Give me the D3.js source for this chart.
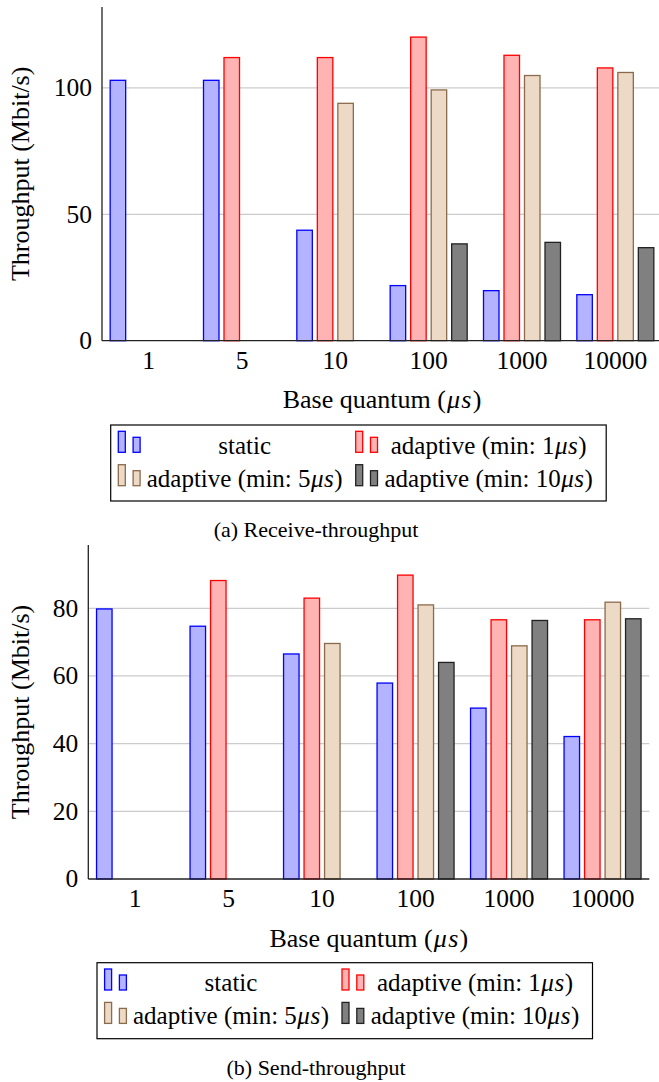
<!DOCTYPE html>
<html>
<head>
<meta charset="utf-8">
<script src="https://cdn.jsdelivr.net/npm/d3@7"></script>
<style>
  body { margin: 0; background: #fff; }
  svg, svg text, svg tspan { font-family: "Liberation Serif", "Times New Roman", Times, serif; }
</style>
</head>
<body>
<div id="chart"></div>
<script>
// categories (base quantum in microseconds)
var categories = ["1", "5", "10", "100", "1000", "10000"];
var seriesNames = ["static", "adaptive (min: 1", "adaptive (min: 5", "adaptive (min: 10"];

// receive throughput (Mbit/s), null = no bar
var recvStatic = [103, 103, 43.7, 21.8, 19.8, 18.2];
var recvAdapt1 = [null, 112, 112, 120.1, 112.9, 107.9];
var recvAdapt5 = [null, null, 93.9, 99.2, 104.9, 106.1];
var recvAdapt10 = [null, null, null, 38.3, 38.9, 36.8];

// send throughput (Mbit/s)
var sendStatic = [79.8, 74.7, 66.5, 57.9, 50.5, 42.1];
var sendAdapt1 = [null, 88.2, 83.0, 89.8, 76.6, 76.6];
var sendAdapt5 = [null, null, 69.6, 81.0, 68.9, 81.8];
var sendAdapt10 = [null, null, null, 64.0, 76.4, 76.9];

var recvTicks = [0, 50, 100];
var sendTicks = [0, 20, 40, 60, 80];

const width = 659;
const height = 1082;
const FONT = "'Liberation Serif', 'Times New Roman', serif";

var fills = ["#b3b3ff", "#ffb3b3", "#ecd9c6", "#808080"];
var strokes = ["#0000ff", "#ff0000", "#8b6b4b", "#222222"];

var svg = d3.select("#chart")
	.append("svg")
	.attr("width", width)
	.attr("height", height)
	.attr("font-family", FONT);

drawPanel({
	left: 102, right: 662, top: 7, base: 340.7, yMax: 132,
	ticks: recvTicks,
	series: [recvStatic, recvAdapt1, recvAdapt5, recvAdapt10],
	tickBase: 369, titleBase: 408, legendTop: 425,
	caption: "(a) Receive-throughput", captionBase: 537
});

drawPanel({
	left: 88.3, right: 649.3, top: 545, base: 879, yMax: 98.7,
	ticks: sendTicks,
	series: [sendStatic, sendAdapt1, sendAdapt5, sendAdapt10],
	tickBase: 906.7, titleBase: 947, legendTop: 962.7,
	caption: "(b) Send-throughput", captionBase: 1075
});

function label(sel, size) {
	return sel.append("text")
		.attr("font-family", FONT)
		.style("font-family", FONT)
		.style("font-size", size + "px")
		.attr("fill", "#000");
}

// math-style "μs" (italic, a bit spaced like TeX)
function mu(t, gap) {
	t.append("tspan").style("font-style", "italic").attr("dx", gap).text("μ");
	t.append("tspan").style("font-style", "italic").attr("dx", gap).text("s");
	t.append("tspan").attr("dx", gap).text(")");
}

function drawPanel(p) {
	var g = svg.append("g");

	var xScale = d3.scalePoint()
		.domain(categories)
		.range([p.left, p.right])
		.padding(0.5);

	var offset = d3.scalePoint()
		.domain(d3.range(seriesNames.length))
		.range([-30.75, 30.75]);

	var yScale = d3.scaleLinear()
		.domain([0, p.yMax])
		.range([p.base, p.top]);

	var barW = 15.5;

	// grid
	g.selectAll(".grid")
		.data(p.ticks.filter(function(t) { return t > 0; }))
		.enter().append("line")
		.attr("x1", p.left)
		.attr("x2", p.right)
		.attr("y1", function(d) { return yScale(d); })
		.attr("y2", function(d) { return yScale(d); })
		.attr("stroke", "#cccccc")
		.attr("stroke-width", 1.2);

	// bars
	p.series.forEach(function(vals, si) {
		g.selectAll(".bar" + si)
			.data(vals.map(function(v, i) { return {cat: categories[i], v: v}; }).filter(function(d) { return d.v !== null; }))
			.enter().append("rect")
			.attr("x", function(d) { return xScale(d.cat) + offset(si) - barW / 2; })
			.attr("y", function(d) { return yScale(d.v); })
			.attr("width", barW)
			.attr("height", function(d) { return yScale(0) - yScale(d.v); })
			.attr("fill", fills[si])
			.attr("stroke", strokes[si])
			.attr("stroke-width", 1.3);
	});

	// axes lines
	g.append("line")
		.attr("x1", p.left).attr("x2", p.left)
		.attr("y1", p.top).attr("y2", p.base)
		.attr("stroke", "#222").attr("stroke-width", 1.3);
	g.append("line")
		.attr("x1", p.left).attr("x2", p.right)
		.attr("y1", p.base).attr("y2", p.base)
		.attr("stroke", "#222").attr("stroke-width", 1.3);

	// y tick labels
	p.ticks.forEach(function(d) {
		label(g, 25.5)
			.attr("x", p.left - 10)
			.attr("y", yScale(d))
			.attr("dy", "0.33em")
			.attr("text-anchor", "end")
			.text(d);
	});

	// x tick labels
	categories.forEach(function(d) {
		label(g, 25.5)
			.attr("x", xScale(d))
			.attr("y", p.tickBase)
			.attr("text-anchor", "middle")
			.text(d);
	});

	// axis titles
	var xt = label(g, 26)
		.attr("x", (p.left + p.right) / 2)
		.attr("y", p.titleBase)
		.attr("text-anchor", "middle");
	xt.append("tspan").text("Base quantum (");
	mu(xt, 1.2);

	label(g, 26)
		.attr("transform", "translate(29," + ((p.top + p.base) / 2) + ") rotate(-90)")
		.attr("text-anchor", "middle")
		.text("Throughput (Mbit/s)");

	// legend
	var lx = p.left + 8.7;
	var ly = p.legendTop;
	g.append("rect")
		.attr("x", lx).attr("y", ly)
		.attr("width", 495.5).attr("height", 76)
		.attr("fill", "none")
		.attr("stroke", "#000")
		.attr("stroke-width", 1.2);

	var cols = [
		{icon: 7.6, textMid: 134},
		{icon: 245, textMid: 378}
	];
	var rows = [{bottom: 27.3, base: 28.5}, {bottom: 60.7, base: 61.5}];

	seriesNames.forEach(function(name, si) {
		var c = cols[si % 2], r = rows[Math.floor(si / 2)];
		var ix = lx + c.icon;
		var iy = ly + r.bottom;
		g.append("rect")
			.attr("x", ix).attr("y", iy - 21)
			.attr("width", 7).attr("height", 21)
			.attr("fill", fills[si]).attr("stroke", strokes[si]).attr("stroke-width", 1.3);
		g.append("rect")
			.attr("x", ix + 14.8).attr("y", iy - 15)
			.attr("width", 7).attr("height", 15)
			.attr("fill", fills[si]).attr("stroke", strokes[si]).attr("stroke-width", 1.3);
		var t = label(g, 25)
			.attr("x", lx + c.textMid)
			.attr("y", ly + r.base)
			.attr("text-anchor", "middle");
		t.append("tspan").text(name);
		if (si > 0) mu(t, 0.5);
	});

	// caption
	label(svg, 22)
		.attr("x", 316)
		.attr("y", p.captionBase)
		.attr("text-anchor", "middle")
		.text(p.caption);
}
</script>
</body>
</html>
